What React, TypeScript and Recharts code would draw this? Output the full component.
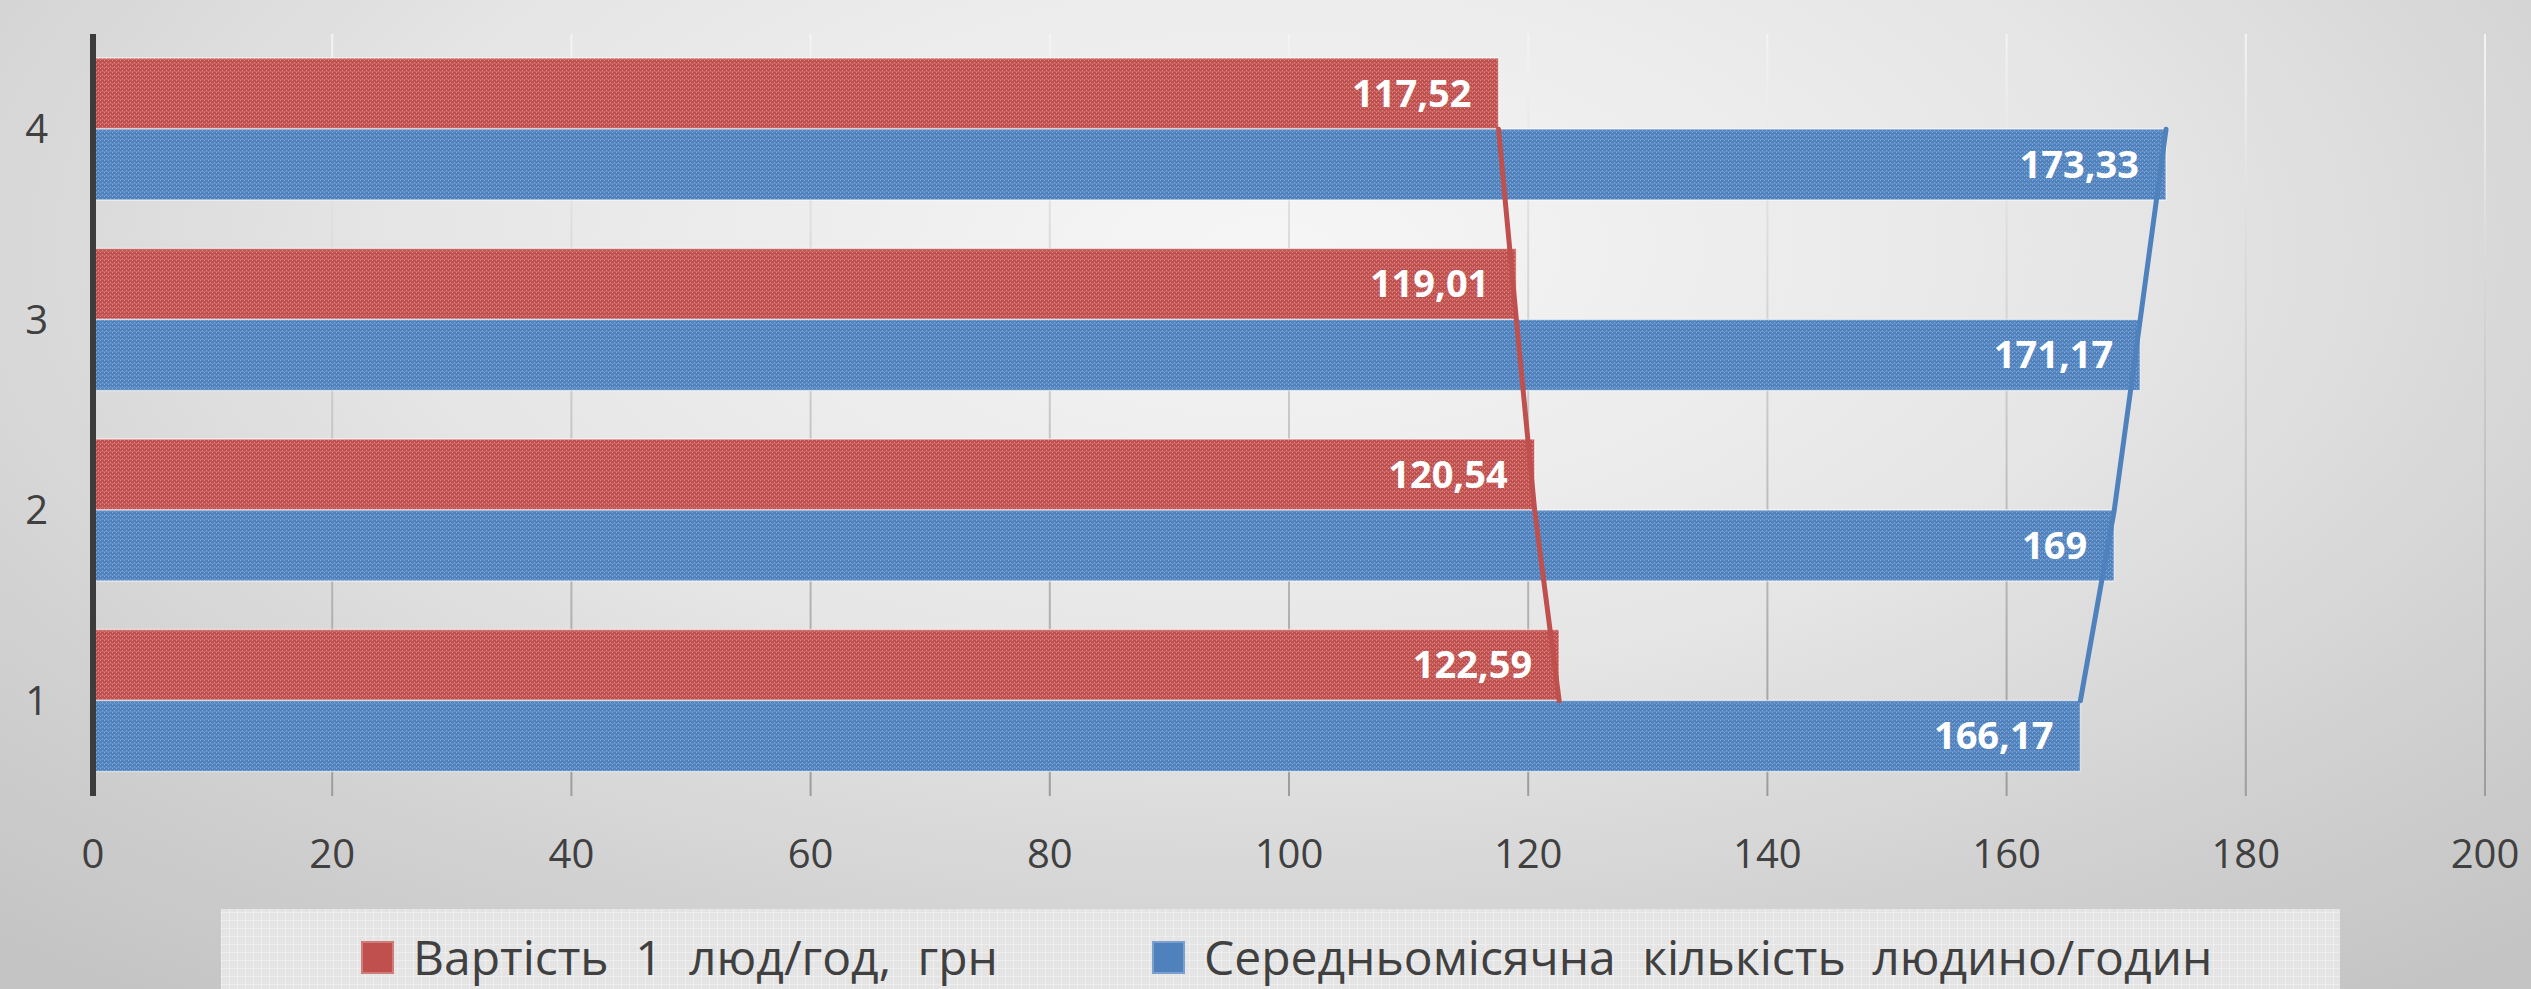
import React from 'react';
import {
  ComposedChart,
  Bar,
  Line,
  XAxis,
  YAxis,
  CartesianGrid,
  LabelList,
} from 'recharts';

// Chart data
const categories = ['1', '2', '3', '4'];
const costPerHour = [122.59, 120.54, 119.01, 117.52];
const avgHours = [166.17, 169, 171.17, 173.33];
const xTicks = [0, 20, 40, 60, 80, 100, 120, 140, 160, 180, 200];
const seriesNames = ['Вартість 1 люд/год, грн', 'Середньомісячна кількість людино/годин'];

const RED = '#c0504d';
const BLUE = '#4f81bd';
const FONT = '"Open Sans", "Noto Sans", sans-serif';

const data = categories.map((name, i) => ({
  name,
  cost: costPerHour[i],
  hours: avgHours[i],
}));

// 117.52 -> "117,52"
const formatComma = (value: number) => String(value).replace('.', ',');

// Textured fill like the Office bar pattern
const Texture = ({ id, color, light }: { id: string; color: string; light: string }) => (
  <pattern id={id} width={4} height={4} patternUnits="userSpaceOnUse">
    <rect width={4} height={4} fill={color} />
    <rect x={0} y={0} width={1} height={1} fill={light} />
    <rect x={2} y={2} width={1} height={1} fill={light} />
    <rect x={0} y={3} width={4} height={1} fill={light} opacity={0.35} />
  </pattern>
);

const LegendItem = ({ left, color, label }: { left: number; color: string; label: string }) => (
  <div
    style={{
      position: 'absolute',
      left,
      top: 22,
      height: 52,
      display: 'flex',
      alignItems: 'center',
      whiteSpace: 'nowrap',
    }}
  >
    <div
      style={{
        width: 33,
        height: 33,
        background: color,
        boxShadow: 'inset 0 0 0 2px rgba(255,255,255,0.25)',
        marginRight: 19,
      }}
    />
    <span
      style={{ fontFamily: FONT, fontSize: 48, lineHeight: '52px', wordSpacing: 14, color: '#404040' }}
    >
      {label}
    </span>
  </div>
);

export default function App() {
  return (
    <div
      style={{
        position: 'absolute',
        left: 0,
        top: 0,
        width: 2531,
        height: 989,
        overflow: 'hidden',
        background: 'radial-gradient(ellipse 75% 95% at 50% 25%, #f6f6f6 0%, #e6e6e6 45%, #cfcfcf 80%, #c4c4c4 100%)',
      }}
    >
      <ComposedChart
        width={2531}
        height={989}
        data={data}
        layout="vertical"
        margin={{ top: 34, right: 46, bottom: 0, left: 0 }}
        barCategoryGap={24}
        barGap={0}
      >
        <defs>
          <Texture id="redTexture" color={RED} light="#d88a88" />
          <Texture id="blueTexture" color={BLUE} light="#86a9d6" />
          <linearGradient id="gridFade" gradientUnits="userSpaceOnUse" x1="0" y1="34" x2="0" y2="796">
            <stop offset="0%" stopColor="#f4f4f4" />
            <stop offset="100%" stopColor="#9c9c9c" />
          </linearGradient>
        </defs>
        <CartesianGrid horizontal={false} stroke="url(#gridFade)" strokeWidth={2} />
        <XAxis
          type="number"
          domain={[0, 200]}
          ticks={xTicks}
          interval={0}
          axisLine={false}
          tickLine={false}
          tickSize={0}
          tickMargin={44}
          height={193}
          tick={{ fontSize: 40, fill: '#404040', fontFamily: FONT }}
        />
        <YAxis
          type="category"
          dataKey="name"
          reversed
          width={93}
          axisLine={{ stroke: '#3c3c3c', strokeWidth: 6 }}
          tickLine={false}
          tickSize={0}
          tickMargin={45}
          tick={{ fontSize: 40, fill: '#404040', fontFamily: FONT }}
        />
        <Bar
          dataKey="cost"
          name={seriesNames[0]}
          fill="url(#redTexture)"
          stroke="rgba(255,255,255,0.55)"
          strokeWidth={1.5}
          isAnimationActive={false}
        >
          <LabelList
            dataKey="cost"
            position="insideRight"
            offset={27}
            formatter={formatComma}
            style={{ fill: '#ffffff', fontSize: 38, fontWeight: 700, fontFamily: FONT }}
          />
        </Bar>
        <Bar
          dataKey="hours"
          name={seriesNames[1]}
          fill="url(#blueTexture)"
          stroke="rgba(255,255,255,0.55)"
          strokeWidth={1.5}
          isAnimationActive={false}
        >
          <LabelList
            dataKey="hours"
            position="insideRight"
            offset={27}
            formatter={formatComma}
            style={{ fill: '#ffffff', fontSize: 38, fontWeight: 700, fontFamily: FONT }}
          />
        </Bar>
        <Line
          dataKey="cost"
          stroke={RED}
          strokeWidth={5}
          strokeLinecap="round"
          dot={false}
          activeDot={false}
          legendType="none"
          isAnimationActive={false}
        />
        <Line
          dataKey="hours"
          stroke={BLUE}
          strokeWidth={5}
          strokeLinecap="round"
          dot={false}
          activeDot={false}
          legendType="none"
          isAnimationActive={false}
        />
      </ComposedChart>
      <div
        style={{
          position: 'absolute',
          left: 221,
          top: 909,
          width: 2119,
          height: 100,
          background: '#e4e4e4',
          backgroundImage:
            'repeating-linear-gradient(0deg, rgba(255,255,255,0.35) 0 1px, transparent 1px 8px), repeating-linear-gradient(90deg, rgba(255,255,255,0.35) 0 1px, transparent 1px 8px)',
        }}
      >
        <LegendItem left={140} color={RED} label={seriesNames[0]} />
        <LegendItem left={931} color={BLUE} label={seriesNames[1]} />
      </div>
    </div>
  );
}
